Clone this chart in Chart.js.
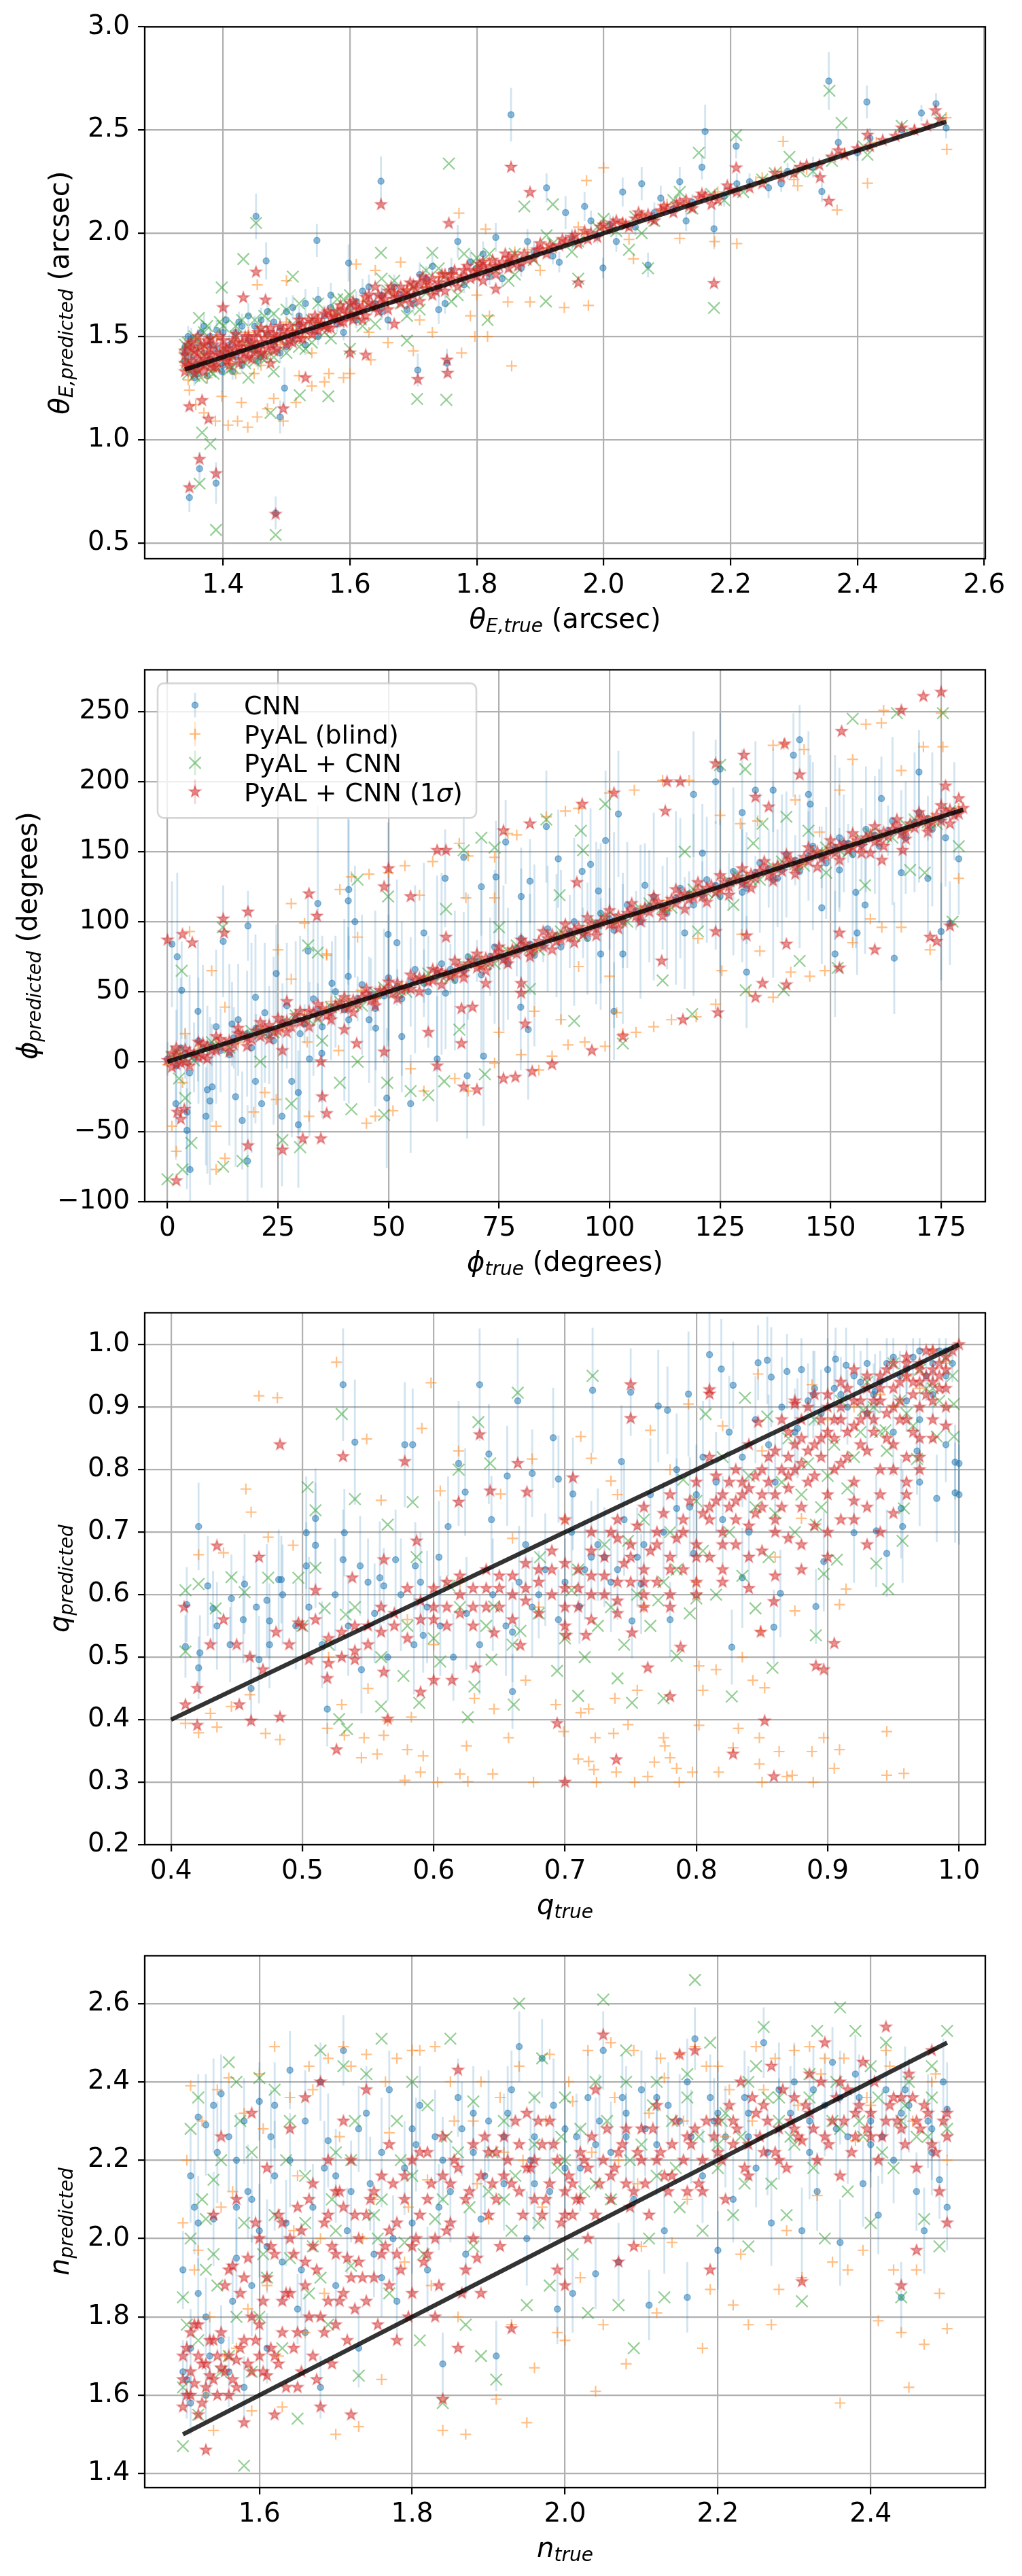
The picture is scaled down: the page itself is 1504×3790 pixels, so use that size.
<!DOCTYPE html>
<html>
<head>
<meta charset="utf-8">
<script src="https://cdn.jsdelivr.net/npm/chart.js@4.4.0/dist/chart.umd.min.js"></script>
<style>
  html, body { margin: 0; padding: 0; background: #fff; }
  #page { position: relative; width: 1504px; height: 3790px; }
  .panel { position: absolute; left: 0; width: 1504px; height: 960px; }
</style>
</head>
<body>
<div id="page">
  <div class="panel" style="top:4px"><canvas id="cTheta" width="1504" height="960"></canvas></div>
  <div class="panel" style="top:950px"><canvas id="cPhi" width="1504" height="960"></canvas></div>
  <div class="panel" style="top:1896px"><canvas id="cQ" width="1504" height="960"></canvas></div>
  <div class="panel" style="top:2842px"><canvas id="cN" width="1504" height="960"></canvas></div>
</div>
<script>
// ---- panel 1: Einstein radius (arcsec) ----
// CNN points are [true, predicted, 1-sigma error]
const thetaCnn = [[1.34,1.38,0.04],[1.34,1.45,0.05],[1.35,1.33,0.04],[1.35,1.40,0.06],[1.36,1.47,0.05],[1.36,1.36,0.04],[1.37,1.42,0.05],[1.38,1.50,0.06],[1.38,1.39,0.04],[1.39,1.44,0.05],[1.40,1.36,0.05],[1.40,1.52,0.07],[1.41,1.46,0.05],[1.42,1.40,0.04],[1.43,1.55,0.06],[1.44,1.48,0.05],[1.45,1.43,0.04],[1.46,1.58,0.06],[1.47,1.51,0.05],[1.48,1.46,0.04],[1.49,1.54,0.05],[1.50,1.62,0.07],[1.51,1.49,0.04],[1.52,1.56,0.05],[1.53,1.66,0.07],[1.54,1.53,0.04],[1.56,1.60,0.05],[1.57,1.70,0.06],[1.58,1.56,0.04],[1.60,1.64,0.05],[1.61,1.58,0.04],[1.62,1.72,0.06],[1.64,1.66,0.05],[1.65,1.62,0.04],[1.67,1.74,0.06],[1.68,1.70,0.05],[1.70,1.66,0.05],[1.72,1.78,0.06],[1.74,1.73,0.04],[1.76,1.82,0.06],[1.77,1.96,0.08],[1.78,1.75,0.04],[1.80,1.83,0.05],[1.82,1.79,0.04],[1.83,1.98,0.07],[1.85,1.86,0.05],[1.87,1.83,0.04],[1.89,1.91,0.05],[1.92,1.89,0.04],[1.94,2.10,0.08],[1.95,1.97,0.05],[1.97,2.13,0.07],[1.99,1.99,0.04],[2.01,2.04,0.05],[2.03,2.20,0.07],[2.05,2.03,0.04],[2.06,2.24,0.08],[2.08,2.10,0.05],[2.11,2.12,0.04],[2.12,2.25,0.07],[2.14,2.15,0.04],[2.19,2.18,0.05],[2.23,2.25,0.04],[2.26,2.22,0.05],[2.29,2.30,0.04],[2.33,2.32,0.05],[2.37,2.44,0.06],[2.40,2.39,0.04],[2.42,2.46,0.05],[2.47,2.50,0.04],[2.54,2.51,0.05],
  [1.347,0.72,0.07],[1.363,0.86,0.08],[1.389,0.79,0.10],[1.483,0.645,0.08],[1.854,2.574,0.13],[1.649,2.252,0.12],[1.452,2.082,0.11],[1.468,1.866,0.09],[1.548,1.965,0.08],[1.598,1.856,0.09],[2.16,2.493,0.13],[2.209,2.422,0.06],[2.355,2.737,0.14],[2.415,2.636,0.08],[2.501,2.582,0.04],[2.524,2.628,0.05],[1.91,2.22,0.07],[2.344,2.202,0.05],[2.174,2.022,0.10],[2.07,1.846,0.06],[1.999,1.832,0.05],[1.707,1.337,0.08],[1.753,1.371,0.07],[1.398,1.33,0.10],[1.497,1.25,0.10],[1.49,1.11,0.08],[2.155,2.32,0.06],[1.74,1.63,0.07]];
const thetaCnnBand = [[1.345,1.50,0.05],[1.355,1.30,0.04],[1.365,1.52,0.05],[1.375,1.31,0.04],[1.39,1.53,0.05],[1.405,1.58,0.06],[1.415,1.33,0.04],[1.425,1.57,0.05],[1.44,1.60,0.06],[1.455,1.38,0.04],[1.47,1.62,0.06],[1.49,1.42,0.05],[1.51,1.64,0.06],[1.53,1.46,0.05],[1.55,1.68,0.06],[1.59,1.52,0.04],[1.63,1.74,0.06],[1.66,1.58,0.05],[1.71,1.80,0.06],[1.75,1.66,0.05],[1.79,1.86,0.06],[1.84,1.78,0.04],[1.88,1.96,0.06],[1.93,1.86,0.05],[1.98,2.06,0.05],[2.02,1.96,0.05],[2.09,2.17,0.06],[2.13,2.06,0.05],[2.21,2.24,0.05],[2.28,2.24,0.04],
  [1.34,1.42,0.04],[1.35,1.49,0.05],[1.36,1.32,0.04],[1.37,1.55,0.06],[1.38,1.46,0.05],[1.40,1.42,0.05],[1.42,1.52,0.05],[1.43,1.36,0.04],[1.45,1.55,0.05],[1.46,1.40,0.04],[1.48,1.57,0.05],[1.50,1.45,0.04],[1.52,1.60,0.05],[1.55,1.50,0.04],[1.57,1.64,0.05],[1.61,1.67,0.05],[1.65,1.70,0.05],[1.69,1.63,0.04],[1.73,1.84,0.06],[1.81,1.90,0.06]];
const thetaBlind = [[1.34,1.36],[1.35,1.41],[1.36,1.34],[1.37,1.44],[1.38,1.38],[1.40,1.43],[1.41,1.37],[1.43,1.47],[1.45,1.44],[1.47,1.50],[1.49,1.46],[1.51,1.53],[1.53,1.50],[1.55,1.57],[1.58,1.60],[1.60,1.63],[1.62,1.67],[1.64,1.82],[1.66,1.66],[1.69,1.73],[1.72,1.74],[1.74,1.79],[1.77,1.77],[1.80,1.82],[1.82,1.87],[1.85,1.86],[1.88,1.92],[1.91,1.93],[1.94,1.95],[1.97,2.00],[2.00,2.02],[2.03,2.05],[2.06,2.09],[2.09,2.11],[2.13,2.14],[2.18,2.20],[2.24,2.25],[2.28,2.30],[2.32,2.31],[2.38,2.39],[2.43,2.44],[2.49,2.50],[2.54,2.56],
  [1.345,1.29],[1.36,1.47],[1.375,1.30],[1.39,1.50],[1.42,1.32],[1.44,1.52],[1.46,1.36],[1.50,1.57],[1.54,1.42],[1.57,1.62],[1.63,1.52],[1.67,1.71],[1.71,1.58],[1.76,1.80],[1.80,1.70],[1.86,1.91],[1.90,1.82],[1.96,2.03],[2.04,1.97],[2.10,2.14],
  [2.541,2.406],[2.416,2.242],[2.368,2.113],[2.283,2.445],[2.306,2.23],[2.21,1.95],[2.175,1.96],[2.12,1.975],[2.0,2.317],[1.973,2.255],[1.772,2.097],[1.855,1.357],[1.817,1.5],[1.797,1.5],[1.776,1.42],[1.938,1.64],[1.976,1.65],[1.884,1.667],[1.849,1.667],[2.047,1.876],[1.633,1.387],[1.60,1.32],[1.567,1.32],[1.61,1.85],[1.68,1.86],[1.814,2.02],[1.347,1.24],[1.357,1.17],[1.37,1.13],[1.388,1.09],[1.408,1.07],[1.423,1.09],[1.439,1.06],[1.454,1.11],[1.47,1.15],[1.495,1.09],[1.48,1.20],[1.515,1.18],[1.54,1.26],[1.56,1.28],[1.429,1.18],[1.398,1.21],[1.50,1.77],[1.454,1.75],[1.357,1.49],[1.367,1.41],[1.412,1.39],[1.449,1.32],[1.52,1.31],[1.59,1.30],[1.66,1.47],[1.70,1.43],[1.73,1.52],[1.79,1.60],[1.82,1.60],[2.30,2.26],[2.25,2.27]];
const thetaPyalCnn = [[1.34,1.40],[1.35,1.36],[1.36,1.44],[1.37,1.38],[1.38,1.48],[1.39,1.35],[1.41,1.42],[1.42,1.50],[1.44,1.45],[1.46,1.53],[1.47,1.40],[1.49,1.49],[1.51,1.56],[1.52,1.45],[1.54,1.58],[1.56,1.52],[1.58,1.62],[1.59,1.68],[1.61,1.60],[1.63,1.65],[1.66,1.72],[1.68,1.66],[1.70,1.74],[1.72,1.71],[1.75,1.79],[1.78,1.76],[1.80,1.85],[1.83,1.82],[1.86,1.90],[1.89,1.87],[1.92,1.95],[1.96,1.96],[1.99,2.03],[2.02,2.01],[2.05,2.08],[2.08,2.06],[2.11,2.16],[2.14,2.12],[2.17,2.19],[2.22,2.20],[2.27,2.29],[2.31,2.30],[2.36,2.35],[2.41,2.42],[2.47,2.52],[2.53,2.55],
  [1.345,1.47],[1.355,1.31],[1.37,1.52],[1.385,1.32],[1.40,1.55],[1.415,1.35],[1.43,1.58],[1.45,1.38],[1.465,1.60],[1.48,1.40],[1.50,1.63],[1.53,1.44],[1.55,1.66],[1.57,1.49],[1.60,1.70],[1.64,1.56],[1.67,1.77],[1.71,1.63],[1.74,1.83],[1.77,1.70],[1.82,1.90],[1.86,1.80],[1.91,1.99],[1.95,1.91],[2.00,2.07],[2.06,2.00],[2.12,2.20],[2.19,2.16],[2.25,2.26],[2.33,2.30],
  [1.34,1.46],[1.345,1.32],[1.355,1.50],[1.365,1.30],[1.375,1.55],[1.38,1.33],[1.395,1.57],[1.41,1.34],[1.42,1.55],[1.435,1.37],[1.45,1.58],[1.46,1.40],[1.48,1.61],[1.50,1.42],[1.52,1.66],[1.54,1.47],[1.58,1.68],[1.62,1.55],[1.65,1.78],[1.69,1.60],[1.72,1.82],[1.76,1.67],[1.80,1.88],[1.85,1.77],
  [1.389,0.563],[1.483,0.539],[1.363,0.787],[1.38,0.98],[1.367,1.034],[1.452,2.05],[1.432,1.875],[1.756,2.337],[2.209,2.475],[2.375,2.535],[2.174,1.638],[2.15,2.39],[2.07,1.83],[1.706,1.197],[1.752,1.193],[1.521,1.215],[1.566,1.21],[2.293,2.37],[2.416,2.38],[2.356,2.69],[1.909,1.67],[1.96,1.78],[1.817,1.58],[1.475,1.13],[1.875,2.13],[1.92,2.14],[1.398,1.737],[1.362,1.59],[1.649,1.905],[1.73,1.905],[2.04,1.92],[1.51,1.79],[1.44,1.30],[1.48,1.33],[1.60,1.44],[1.69,1.48],[1.78,1.90]];
const thetaSigma = [[1.34,1.37],[1.34,1.41],[1.35,1.35],[1.35,1.44],[1.36,1.39],[1.37,1.36],[1.37,1.46],[1.38,1.41],[1.39,1.38],[1.40,1.45],[1.41,1.40],[1.42,1.47],[1.43,1.43],[1.44,1.50],[1.45,1.46],[1.46,1.42],[1.47,1.52],[1.48,1.48],[1.50,1.51],[1.51,1.47],[1.52,1.55],[1.54,1.57],[1.55,1.53],[1.57,1.59],[1.58,1.62],[1.60,1.60],[1.61,1.65],[1.63,1.66],[1.64,1.74],[1.65,1.69],[1.67,1.71],[1.69,1.69],[1.70,1.75],[1.72,1.77],[1.74,1.74],[1.76,1.80],[1.78,1.79],[1.80,1.82],[1.81,1.86],[1.83,1.84],[1.85,1.88],[1.88,1.87],[1.90,1.92],[1.93,1.94],[1.95,1.98],[1.98,2.00],[2.00,2.04],[2.03,2.05],[2.06,2.08],[2.09,2.11],[2.12,2.15],[2.15,2.17],[2.17,2.14],[2.21,2.20],[2.25,2.24],[2.28,2.27],[2.32,2.33],[2.36,2.37],[2.40,2.41],[2.44,2.45],[2.49,2.50],[2.53,2.55],
  [1.347,0.768],[1.363,0.905],[1.389,0.836],[1.483,0.639],[1.854,2.32],[1.649,2.139],[1.756,2.048],[1.884,2.198],[2.209,2.317],[2.174,1.757],[2.355,2.155],[2.341,2.27],[1.452,1.812],[1.432,1.688],[1.467,1.677],[1.40,1.64],[1.754,1.322],[1.707,1.292],[1.753,1.386],[1.347,1.16],[1.367,1.19],[1.377,1.10],[1.495,1.15],[1.475,1.37],[1.60,1.42],[1.625,1.41],[1.96,1.76],[2.523,2.594],[2.47,2.51],[2.416,2.475],[2.37,2.40],[2.31,2.32],[1.53,1.30],[1.67,1.56],[1.83,1.73]];
const thetaSigmaBand = [[1.34,1.33],[1.34,1.43],[1.35,1.38],[1.35,1.47],[1.36,1.34],[1.36,1.42],[1.36,1.50],[1.37,1.39],[1.37,1.33],[1.38,1.44],[1.38,1.36],[1.38,1.49],[1.39,1.42],[1.39,1.35],[1.40,1.40],[1.40,1.48],[1.41,1.44],[1.41,1.36],[1.42,1.43],[1.42,1.51],[1.43,1.39],[1.43,1.47],[1.44,1.45],[1.44,1.40],[1.45,1.50],[1.45,1.42],[1.46,1.47],[1.46,1.54],[1.47,1.44],[1.48,1.51],[1.48,1.43],[1.49,1.49],[1.49,1.55],[1.50,1.46],[1.51,1.52],[1.52,1.49],[1.52,1.58],[1.53,1.53],[1.54,1.51],[1.55,1.58],[1.56,1.55],[1.56,1.61],[1.57,1.54],[1.58,1.58],[1.59,1.63],[1.59,1.57],[1.60,1.66],[1.61,1.61],[1.62,1.64],[1.62,1.58],[1.63,1.70],[1.64,1.64],[1.65,1.66],[1.66,1.72],[1.66,1.63],[1.67,1.68],[1.68,1.74],[1.68,1.66],[1.69,1.72],[1.70,1.70],[1.71,1.76],[1.71,1.67],[1.72,1.73],[1.73,1.70],[1.73,1.78],[1.74,1.76],[1.75,1.72],[1.75,1.80],[1.76,1.77],[1.77,1.74],[1.78,1.82],[1.79,1.78],[1.80,1.79],[1.81,1.84],[1.81,1.77],[1.82,1.83],[1.83,1.80],[1.84,1.86],[1.85,1.83],[1.86,1.89],[1.87,1.86],[1.89,1.88],[1.90,1.95],[1.91,1.90],[1.92,1.93],[1.94,1.96],[1.96,1.95],[1.97,2.01],[1.99,1.98],[2.01,2.02],[2.02,2.06],[2.04,2.03],[2.05,2.07],[2.07,2.09],[2.08,2.06],[2.10,2.12],[2.11,2.10],[2.13,2.16],[2.14,2.12],[2.16,2.18],[2.18,2.16],[2.20,2.21],[2.23,2.22],[2.27,2.29],[2.30,2.29],[2.34,2.33],[2.38,2.38],[2.42,2.42],[2.46,2.47],[2.51,2.52],
  [1.345,1.46],[1.345,1.36],[1.355,1.43],[1.355,1.32],[1.365,1.45],[1.365,1.37],[1.375,1.48],[1.375,1.41],[1.385,1.35],[1.385,1.46],[1.395,1.41],[1.395,1.50],[1.405,1.38],[1.405,1.44],[1.415,1.48],[1.415,1.41],[1.425,1.45],[1.425,1.37],[1.435,1.50],[1.435,1.42],[1.445,1.47],[1.445,1.39],[1.455,1.52],[1.455,1.44],[1.465,1.49],[1.465,1.41],[1.475,1.54],[1.475,1.46],[1.485,1.50],[1.485,1.44],[1.495,1.53],[1.505,1.48],[1.505,1.55],[1.515,1.51],[1.525,1.56],[1.525,1.49],[1.535,1.58],[1.545,1.53],[1.545,1.60],[1.555,1.56],[1.565,1.62],[1.565,1.54],[1.575,1.60],[1.585,1.57],[1.585,1.65],[1.595,1.61],[1.605,1.58],[1.605,1.67],[1.615,1.63],[1.625,1.69],[1.625,1.60],[1.635,1.65],[1.645,1.70],[1.645,1.62],[1.655,1.68],[1.665,1.74],[1.675,1.69],[1.685,1.71],[1.695,1.76],[1.695,1.66],[1.705,1.73],[1.715,1.79],[1.725,1.75],[1.735,1.72],[1.745,1.80],[1.755,1.76],[1.765,1.82],[1.775,1.78],[1.785,1.84],[1.795,1.81],[1.805,1.85],[1.815,1.81],[1.825,1.87],[1.835,1.84],[1.845,1.90],[1.855,1.86],[1.865,1.84],[1.875,1.90],[1.895,1.92],[1.915,1.94],[1.935,1.97],[1.955,1.99],[1.975,1.97],[1.995,2.03],[2.015,2.05],[2.035,2.04],[2.055,2.10],[2.075,2.07],[2.095,2.13],[2.115,2.14],[2.135,2.13],[2.155,2.19],[2.175,2.18],[2.195,2.23]];
const thetaXTicks = [1.4, 1.6, 1.8, 2.0, 2.2, 2.4, 2.6];
const thetaXLabels = ['1.4', '1.6', '1.8', '2.0', '2.2', '2.4', '2.6'];
const thetaYTicks = [0.5, 1.0, 1.5, 2.0, 2.5, 3.0];
const thetaYLabels = ['0.5', '1.0', '1.5', '2.0', '2.5', '3.0'];

// ---- panel 2: position angle (degrees) ----
const phiCnn = [[0,2,12],[2,-3,40],[4,6,18],[6,3,25],[8,9,60],[10,12,15],[12,8,30],[15,17,22],[18,20,45],[20,24,10],[23,19,35],[26,28,28],[29,31,55],[31,27,14],[34,36,20],[37,39,38],[40,37,65],[43,45,16],[46,48,26],[49,47,48],[52,54,12],[55,57,32],[58,56,24],[61,63,70],[64,66,18],[67,65,42],[70,72,15],[73,75,28],[76,74,52],[79,81,20],[82,84,36],[85,83,12],[88,90,44],[91,93,26],[94,92,18],[97,99,58],[100,102,22],[103,101,34],[106,108,14],[109,111,40],[112,110,30],[115,117,62],[118,120,16],[121,119,24],[124,126,46],[127,129,20],[130,128,38],[133,135,12],[136,138,28],[139,137,54],[142,144,18],[145,147,32],[148,146,22],[151,153,66],[154,156,14],[157,155,26],[160,162,42],[163,165,18],[166,164,30],[169,171,50],[172,174,16],[175,173,24],[178,179,35],
  [3,10,50],[5,-8,70],[7,15,45],[9,-20,60],[11,25,55],[14,5,65],[16,30,40],[19,10,75],[22,35,50],[24,15,60],[27,40,45],[30,20,70],[33,45,55],[35,25,65],[38,50,40],[41,30,60],[44,55,50],[47,38,70],[50,60,45],[53,45,55],[56,66,60],[59,50,40],[62,70,65],[65,58,50],[68,75,45],[71,62,60],[74,82,55],[77,70,40],[80,88,50],[83,76,65],[86,95,45],[89,82,55],[92,100,60],[95,88,40],[98,106,50],[101,94,70],[104,112,45],[107,100,55],[110,118,60],[113,106,40],[116,124,50],[119,112,65],[122,130,45],[125,118,55],[128,136,60],[131,124,40],[134,142,50],[137,130,70],[140,148,45],[143,136,55],[146,154,60],[149,142,40],[152,160,50],[155,148,65],[158,166,45],[161,154,55],[164,172,60],[167,160,40],[170,178,50],[173,166,55],
  [1,84,45],[2.2,75,60],[3.2,51,35],[6.9,36,50],[1.9,-30,40],[4.4,-36,55],[4.4,-49,30],[5.1,-77,45],[8.7,-39,35],[9.6,-28,60],[10.1,-18,25],[12.6,86,40],[14.6,27,30],[15.4,-25,50],[16.9,-42,35],[18.2,97,25],[18.1,-71,40],[19.9,-14,30],[19.9,46,45],[21.3,-30,60],[24.6,63,35],[25.9,-39,50],[28.1,-14,40],[29.6,-22,30],[29.6,-45,45],[32.1,2,55],[34,113,70],[31.8,79,40],[34.9,6,35],[37.2,56,30],[41,123,50],[40.9,115,60],[42.4,100,40],[40.9,61,35],[45.6,30,45],[47.1,24,30],[49.6,-26,50],[49.9,91,80],[51.9,85,45],[53,18,40],[55,-30,35],[58,92,50],[61,2,45],[62.8,131,35],[62.9,49,40],[67,146,30],[67.8,-10,45],[71,125,35],[71.5,4,50],[74.3,132,40],[76.5,157,30],[80,118,35],[79.9,39,45],[82,129,30],[81.6,23,50],[85.7,168,40],[88.4,145,35],[93.8,136,45],[95.7,141,40],[97.5,122,30],[99.1,158,50],[102,177,45],[98,77,40],[101,36,35],[103,77,50],[108,126,30],[117,92,40],[119,191,45],[121,149,35],[124,200,30],[125,209,40],[130,178,45],[133,194,35],[137,194,30],[130,121,50],[131,64,40],[138,131,35],[141.6,219,30],[143,230,25],[145,191,45],[145.4,184,35],[148,110,40],[152,137,30],[153,156,35],[155.7,121,40],[156,92,30],[151,77,45],[157.8,112,35],[161.5,188,30],[164.4,74,40],[166,135,35],[170,207,30],[172,131,40],[175,93,35],[177,99,30],[179,145,40],[176,160,35]];
const phiBlind = [[0,-2],[3,5],[7,9],[11,13],[16,14],[21,23],[26,24],[31,33],[36,38],[41,43],[47,45],[53,55],[59,61],[65,63],[71,73],[77,79],[83,81],[89,91],[95,97],[101,99],[107,109],[113,115],[119,121],[125,123],[131,133],[137,139],[143,141],[149,151],[155,157],[161,163],[167,165],[173,175],[179,181],
  [28,113],[31,99],[36,77],[39,123],[41.6,132],[45.6,134],[50,135],[53.7,140],[60,143],[66,156],[68,147],[74,146],[77,163],[79,162],[85.7,175],[90,179],[93,181],[100,192],[105.6,194],[112,201],[118,201],[125,176],[129.6,170],[133.5,172],[137,226],[139.4,227],[144,223],[142,187],[147.5,164],[152,194],[155,216],[158,241],[161.5,242],[162,251],[166,208],[171,225],[175,249],[175.4,225],[179,131],
  [1,-46],[2,-64],[3.4,-15],[4,20],[5,93],[10,65],[11,-77],[11,-46],[13,39],[13,-69],[19.5,-36],[22,-22],[25,80],[28,59],[32,-39],[36,76],[38.7,8],[43,89],[45,-44],[47,-39],[51,-35],[55,-5],[58,-21],[65,-12],[68,-21],[74,-1],[80,5],[84,-6],[87,4],[90.6,12],[94.4,14],[99,11],[103,20],[106,21],[110,25],[114,30],[119.6,32],[124,41],[131.6,50],[137,46],[141,64],[145.3,61],[148.7,65],[155,85],[161.6,96],[166,96],[172.5,80],[159,102],[125.4,65],[129.9,91],[134,79],[113,108],[120,88],[93,68],[100,61],[101.6,35],[89,30],[75,21],[83,36],[70.6,68],[74,117],[67.5,117],[57,119],[43.8,51],[37,43],[31.6,14],[24.6,-27]];
const phiPyalCnn = [[1,3],[4,2],[8,10],[12,11],[17,19],[22,20],[27,29],[32,30],[37,39],[42,41],[47,49],[52,50],[57,59],[62,61],[67,69],[72,70],[77,79],[82,81],[87,89],[92,90],[97,99],[102,101],[107,109],[112,110],[117,119],[122,121],[127,129],[132,130],[137,139],[142,141],[147,149],[152,151],[157,159],[162,161],[167,169],[172,171],[177,179],
  [2,7],[6,1],[10,14],[14,10],[19,22],[24,21],[29,33],[34,30],[39,43],[44,40],[49,53],[54,50],[59,63],[64,60],[69,73],[74,70],[79,83],[84,80],[89,93],[94,90],[99,103],[104,100],[109,113],[114,110],[119,123],[124,120],[129,133],[134,130],[139,143],[144,140],[149,153],[154,150],[159,163],[164,160],[169,173],[174,170],
  [0,-84],[3.4,-77],[5.4,-58],[3.2,65],[4,-26],[2.6,-12],[12.6,-75],[17,-71],[12.5,96],[21,0],[26,-56],[30,-61],[28,-30],[31.8,83],[34,78],[35,15],[39,-15],[41.6,-34],[43,130],[43,0],[49,-38],[49.9,118],[49.7,-15],[55,-21],[59,-24],[63,109],[62.6,-14],[66,23],[67,151],[71,160],[71.8,-9],[74,153],[75,96],[82,52],[85.7,173],[88.7,119],[92,29],[93.5,165],[94,151],[99,184],[102.6,102],[103,13],[112,58],[117,150],[118.7,34],[120,93],[125,212],[128,112],[130.7,209],[130.8,51],[134.6,170],[132.5,156],[140,175],[139.4,51],[143,72],[145,165],[149,135],[151.6,67],[155,245],[157.8,126],[165,249],[168,137],[175.4,249],[179,154],[177.6,100],[171.3,135]];
const phiSigma = [[0,1],[1,-4],[2,5],[3,-1],[5,7],[7,3],[9,11],[11,8],[14,15],[17,19],[19,16],[22,24],[25,22],[27,29],[30,28],[33,35],[36,33],[38,40],[41,39],[44,46],[47,45],[50,52],[53,51],[56,58],[59,57],[62,64],[65,63],[68,70],[71,69],[74,76],[77,75],[80,82],[83,81],[86,88],[89,87],[92,94],[95,93],[98,100],[101,99],[104,106],[107,105],[110,112],[113,111],[116,118],[119,117],[122,124],[125,123],[128,130],[131,129],[134,136],[137,135],[140,142],[143,141],[146,148],[149,147],[152,154],[155,153],[158,160],[161,159],[164,166],[167,165],[170,172],[173,171],[176,178],[179,177],
  [0,87],[3.4,91],[5.6,85],[2,-85],[2.2,-36],[3,-41],[3.8,-34],[12.6,102],[12.8,92],[18.2,107],[18.2,-60],[26,-63],[26,8],[27,43],[30.6,-55],[32,120],[33.8,104],[34.7,0],[34.7,-55],[35,-25],[36,-37],[40,23],[42.8,13],[49,125],[50,138],[49,7],[55,118],[59,21],[61,151],[63,151],[61,-3],[63,89],[66.5,38],[66.5,13],[67,-18],[69,39],[70,-20],[72,56],[76,165],[76,-12],[78.7,-11],[80,56],[80,49],[80.9,27],[82,170],[82.5,-7],[87,-2],[92.6,128],[93.8,184],[96,8],[101,192],[103,18],[111.8,72],[112.6,179],[113,200],[116,200],[116.6,30],[124,93],[124.5,35],[124,213],[130.4,219],[131,90],[133,189],[133,46],[134.6,56],[136,182],[139.6,227],[140,55],[140,84],[143,205],[152,92],[152,67],[152.5,236],[159,149],[160,80],[161.6,144],[166,251],[166.3,151],[171,261],[172.5,89],[174,86],[175,264],[176,197],[177,97],[179,188]];
const phiSigmaBand = [[1,6],[2,-2],[4,9],[4,0],[6,5],[8,13],[8,4],[10,8],[12,16],[13,11],[15,12],[16,20],[18,17],[20,22],[21,18],[23,26],[24,21],[26,27],[28,25],[29,33],[31,30],[32,36],[34,32],[35,38],[37,35],[39,42],[40,38],[42,44],[43,41],[45,48],[46,44],[48,51],[49,50],[51,49],[52,56],[54,53],[55,52],[57,60],[58,59],[60,58],[61,65],[63,62],[64,61],[66,68],[67,64],[69,72],[70,67],[72,74],[73,71],[75,78],[76,73],[78,80],[79,77],[81,84],[82,79],[84,86],[85,82],[87,91],[88,86],[90,92],[91,89],[93,96],[94,91],[96,98],[97,95],[99,103],[100,98],[102,104],[103,100],[105,108],[106,104],[108,110],[109,107],[111,114],[112,109],[114,116],[115,113],[117,120],[118,116],[120,122],[121,118],[123,126],[124,121],[126,128],[127,125],[129,132],[130,127],[132,134],[133,131],[135,138],[136,133],[138,140],[139,136],[141,144],[142,139],[144,146],[145,143],[147,150],[148,145],[150,152],[151,149],[153,156],[154,151],[156,158],[157,154],[159,162],[160,157],[162,164],[163,161],[165,168],[166,163],[168,170],[169,167],[171,174],[172,169],[174,176],[175,172],[177,180],[178,176],[180,181],
  [2,10],[5,-3],[7,14],[9,2],[11,18],[14,7],[16,24],[18,11],[21,28],[23,16],[25,31],[27,21],[30,36],[32,25],[34,41],[37,30],[40,46],[42,35],[45,52],[47,40],[50,57],[52,45],[55,62],[57,50],[60,66],[62,55],[65,72],[67,60],[70,77],[72,65],[75,82],[77,70],[80,87],[82,75],[85,93],[87,80],[90,98],[92,85],[95,103],[97,90],[100,108],[102,95],[105,113],[107,100],[110,118],[112,104],[115,123],[117,109],[120,128],[122,114],[125,133],[127,119],[130,138],[132,124],[135,143],[137,129],[140,148],[142,134],[145,153],[147,139],[150,158],[152,144],[155,163],[157,149],[160,168],[162,154],[165,173],[167,159],[170,178],[172,164],[175,183],[177,170]];
const phiXTicks = [0, 25, 50, 75, 100, 125, 150, 175];
const phiXLabels = ['0', '25', '50', '75', '100', '125', '150', '175'];
const phiYTicks = [-100, -50, 0, 50, 100, 150, 200, 250];
const phiYLabels = ['\u2212100', '\u221250', '0', '50', '100', '150', '200', '250'];

// ---- panel 3: axis ratio ----
const qCnn = [[0.99,0.99,0.02],[0.98,0.97,0.03],[0.97,0.99,0.02],[0.96,0.96,0.04],[0.95,0.98,0.03],[0.99,0.95,0.03],[0.94,0.94,0.05],[0.93,0.97,0.04],[0.92,0.95,0.05],[0.98,0.92,0.04],[0.96,0.91,0.05],[0.91,0.92,0.06],[0.90,0.96,0.05],[0.89,0.93,0.06],[0.88,0.96,0.05],[0.97,0.88,0.06],[0.95,0.86,0.07],[0.93,0.89,0.06],[1.0,0.81,0.05],[1.0,0.76,0.08],[0.99,0.84,0.06],[0.97,0.78,0.07],
  [0.995,0.97,0.03],[0.985,0.99,0.02],[0.975,0.95,0.04],[0.965,0.98,0.03],[0.955,0.95,0.04],[0.945,0.97,0.04],[0.935,0.92,0.05],[0.925,0.94,0.05],[0.915,0.90,0.06],[0.905,0.93,0.06],[0.895,0.89,0.07],[0.885,0.91,0.06],[0.875,0.86,0.07],[0.865,0.90,0.08],[0.855,0.84,0.08],[0.845,0.88,0.07],[0.835,0.82,0.08],[0.825,0.86,0.09],[0.815,0.78,0.08],[0.805,0.82,0.09],[0.795,0.74,0.08],[0.785,0.80,0.09],[0.775,0.70,0.08],[0.765,0.76,0.09],[0.755,0.66,0.08],[0.745,0.72,0.09],[0.735,0.62,0.08],[0.725,0.68,0.09],[0.715,0.64,0.08],[0.705,0.70,0.09],[0.695,0.56,0.08],[0.685,0.64,0.09],[0.675,0.58,0.08],[0.665,0.62,0.09],[0.655,0.55,0.08],[0.645,0.60,0.09],[0.635,0.52,0.08],[0.625,0.57,0.09],[0.615,0.50,0.07],[0.605,0.55,0.08],[0.595,0.58,0.09],[0.585,0.52,0.08],[0.575,0.60,0.09],[0.565,0.50,0.07],[0.555,0.57,0.08],[0.545,0.48,0.07],[0.535,0.55,0.08],[0.525,0.60,0.09],[0.515,0.52,0.07],[0.505,0.58,0.08],[0.495,0.55,0.07],[0.485,0.60,0.08],[0.475,0.52,0.07],[0.465,0.58,0.08],[0.455,0.56,0.07],[0.445,0.52,0.06],[0.435,0.55,0.07],
  [0.421,0.709,0.07],[0.412,0.584,0.06],[0.411,0.517,0.05],[0.422,0.507,0.06],[0.421,0.483,0.05],[0.428,0.614,0.08],[0.432,0.578,0.06],[0.446,0.594,0.07],[0.456,0.617,0.08],[0.461,0.45,0.06],[0.467,0.496,0.07],[0.473,0.591,0.09],[0.475,0.558,0.06],[0.482,0.624,0.08],[0.484,0.624,0.07],[0.503,0.699,0.09],[0.51,0.722,0.08],[0.51,0.679,0.10],[0.503,0.646,0.07],[0.519,0.417,0.06],[0.531,0.936,0.09],[0.531,0.656,0.08],[0.532,0.699,0.07],[0.54,0.844,0.10],[0.544,0.646,0.08],[0.55,0.62,0.07],[0.559,0.627,0.09],[0.562,0.614,0.06],[0.571,0.656,0.08],[0.578,0.84,0.10],[0.584,0.84,0.09],[0.586,0.646,0.07],[0.59,0.62,0.08],[0.592,0.535,0.06],[0.604,0.66,0.09],[0.611,0.709,0.08],[0.619,0.81,0.10],[0.624,0.764,0.07],[0.635,0.936,0.09],[0.642,0.825,0.08],[0.644,0.72,0.07],[0.66,0.445,0.06],[0.664,0.91,0.10],[0.656,0.79,0.08],[0.675,0.794,0.07],[0.67,0.68,0.09],[0.691,0.851,0.08],[0.695,0.785,0.07],[0.706,0.761,0.09],[0.711,0.581,0.06],[0.721,0.927,0.10],[0.73,0.66,0.08],[0.743,0.813,0.09],[0.75,0.924,0.07],[0.751,0.558,0.06],[0.758,0.617,0.08],[0.771,0.902,0.09],[0.778,0.895,0.07],[0.785,0.738,0.08],[0.794,0.921,0.10],[0.798,0.666,0.07],[0.81,0.984,0.09],[0.819,0.961,0.08],[0.827,0.516,0.06],[0.828,0.935,0.07],[0.835,0.627,0.08],[0.847,0.971,0.06],[0.854,0.975,0.07],[0.857,0.948,0.08],[0.859,0.548,0.06],[0.864,0.602,0.07],[0.869,0.957,0.06],[0.877,0.866,0.08],[0.889,0.92,0.07],[0.891,0.581,0.06],[0.897,0.653,0.08],[0.906,0.977,0.05],[0.914,0.967,0.06],[0.92,0.699,0.08],[0.936,0.925,0.06],[0.937,0.702,0.09],[0.945,0.666,0.07],[0.956,0.738,0.08],[0.957,0.709,0.09],[0.983,0.754,0.07],[0.997,0.812,0.06],[0.997,0.763,0.08],[0.968,0.83,0.07],[0.80,0.76,0.08],[0.82,0.72,0.07],[0.84,0.70,0.09],[0.86,0.78,0.08],[0.76,0.68,0.07],[0.74,0.64,0.08],[0.72,0.66,0.09],[0.70,0.62,0.07],[0.78,0.56,0.06],[0.66,0.54,0.08],[0.68,0.60,0.07]];
const qBlind = [[0.526,0.972],[0.467,0.918],[0.481,0.915],[0.598,0.939],[0.591,0.866],[0.549,0.849],[0.457,0.769],[0.461,0.732],[0.474,0.692],[0.493,0.679],[0.421,0.664],[0.44,0.667],[0.56,0.751],[0.605,0.766],[0.619,0.83],[0.651,0.761],[0.675,0.817],[0.712,0.853],[0.72,0.818],[0.735,0.782],[0.765,0.863],[0.794,0.905],[0.847,0.953],[0.888,0.936],[0.88,0.722],[0.914,0.609],[0.909,0.584],[0.875,0.574],[0.849,0.542],[0.835,0.5],[0.802,0.486],[0.815,0.48],[0.843,0.463],[0.852,0.451],[0.805,0.447],[0.755,0.447],[0.738,0.434],[0.718,0.417],[0.712,0.411],[0.693,0.424],[0.67,0.463],[0.631,0.434],[0.646,0.417],[0.583,0.404],[0.565,0.398],[0.55,0.45],[0.53,0.424],[0.519,0.386],[0.435,0.388],[0.411,0.394],[0.421,0.379],[0.472,0.378],[0.483,0.368],[0.446,0.421],[0.532,0.375],[0.547,0.371],[0.562,0.375],[0.545,0.339],[0.557,0.345],[0.58,0.352],[0.592,0.342],[0.59,0.316],[0.578,0.303],[0.603,0.3],[0.62,0.313],[0.626,0.301],[0.625,0.358],[0.645,0.313],[0.657,0.371],[0.676,0.3],[0.699,0.381],[0.71,0.337],[0.718,0.333],[0.722,0.32],[0.724,0.3],[0.723,0.371],[0.737,0.378],[0.739,0.316],[0.748,0.392],[0.753,0.3],[0.763,0.309],[0.768,0.332],[0.775,0.371],[0.776,0.358],[0.78,0.339],[0.785,0.322],[0.787,0.3],[0.797,0.316],[0.802,0.391],[0.817,0.316],[0.832,0.386],[0.828,0.355],[0.848,0.371],[0.848,0.329],[0.85,0.3],[0.863,0.349],[0.873,0.311],[0.888,0.349],[0.889,0.3],[0.897,0.371],[0.905,0.322],[0.945,0.381],[0.945,0.311],[0.958,0.314],[0.909,0.352],[0.869,0.309],
  [0.98,0.99],[0.96,0.95],[0.94,0.92],[0.99,0.97],[0.92,0.90],[0.97,0.93],[0.90,0.88],[0.95,0.90],[0.85,0.83],[0.82,0.87],[0.78,0.80],[0.74,0.76],[0.70,0.72],[0.66,0.69],[0.62,0.62],[0.58,0.56],[0.52,0.50],[0.46,0.44],[0.43,0.41],[0.60,0.52],[0.68,0.58],[0.80,0.62],[0.86,0.66],[0.76,0.58]];
const qPyalCnn = [[0.53,0.889],[0.634,0.876],[0.721,0.95],[0.664,0.923],[0.643,0.81],[0.504,0.772],[0.51,0.735],[0.54,0.753],[0.584,0.748],[0.619,0.8],[0.411,0.607],[0.411,0.509],[0.421,0.617],[0.434,0.578],[0.446,0.628],[0.456,0.604],[0.474,0.627],[0.497,0.627],[0.51,0.643],[0.517,0.578],[0.533,0.568],[0.528,0.401],[0.534,0.385],[0.56,0.421],[0.577,0.47],[0.589,0.427],[0.605,0.493],[0.626,0.404],[0.631,0.453],[0.644,0.496],[0.661,0.424],[0.694,0.478],[0.71,0.438],[0.74,0.466],[0.751,0.427],[0.775,0.434],[0.785,0.502],[0.827,0.437],[0.858,0.483],[0.891,0.535],[0.897,0.633],[0.891,0.712],[0.907,0.656],[0.937,0.65],[0.946,0.609],[0.957,0.686],[0.958,0.738],[0.996,0.853],[0.996,0.905],[0.968,0.817],[0.983,0.853],[0.944,0.863],[0.927,0.895],[0.845,0.578],[0.8,0.594],[0.771,0.591],[0.748,0.686],[0.79,0.784],[0.807,0.889],[0.837,0.915],[0.854,0.885],[0.705,0.607],[0.681,0.66],[0.646,0.581],[0.612,0.614],[0.587,0.66],[0.565,0.712],[0.666,0.542],
  [0.99,0.98],[0.97,0.96],[0.95,0.97],[0.98,0.93],[0.93,0.94],[0.96,0.89],[0.91,0.91],[0.94,0.86],[0.89,0.88],[0.92,0.82],[0.87,0.85],[0.84,0.79],[0.82,0.82],[0.80,0.75],[0.78,0.70],[0.76,0.72],[0.73,0.68],[0.71,0.64],[0.86,0.73],[0.88,0.76],[0.90,0.79],
  [0.995,0.95],[0.985,0.91],[0.975,0.93],[0.965,0.87],[0.955,0.91],[0.945,0.83],[0.935,0.90],[0.925,0.86],[0.915,0.77],[0.905,0.84],[0.895,0.74],[0.885,0.81],[0.875,0.70],[0.865,0.78],[0.855,0.66],[0.845,0.74],[0.835,0.63],[0.825,0.70],[0.815,0.60],[0.805,0.67],[0.795,0.57],[0.785,0.64],[0.775,0.62],[0.765,0.55],[0.755,0.60],[0.745,0.52],[0.735,0.58],[0.725,0.55],[0.715,0.50],[0.70,0.53],[0.68,0.57],[0.66,0.52],[0.64,0.55],[0.62,0.58],[0.60,0.53],[0.58,0.55],[0.56,0.50],[0.54,0.58],[0.52,0.52],[0.50,0.55]];
const qSigma = [[1.0,1.0],[0.99,0.98],[0.98,0.99],[0.98,0.96],[0.97,0.97],[0.97,0.94],[0.96,0.98],[0.96,0.95],[0.95,0.93],[0.95,0.97],[0.94,0.95],[0.94,0.91],[0.93,0.93],[0.93,0.89],[0.92,0.96],[0.92,0.91],[0.91,0.88],[0.91,0.94],[0.90,0.90],[0.90,0.86],[0.89,0.92],[0.89,0.84],[0.88,0.88],[0.88,0.81],[0.87,0.86],[0.87,0.79],[0.86,0.83],[0.86,0.76],[0.85,0.80],[0.85,0.74],[0.84,0.84],[0.84,0.77],[0.83,0.72],[0.83,0.80],[0.82,0.76],[0.82,0.70],[0.81,0.82],[0.81,0.74],[0.80,0.78],[0.80,0.68],[0.79,0.72],[0.78,0.76],[0.78,0.66],[0.77,0.70],[0.76,0.74],[0.76,0.64],[0.75,0.68],[0.74,0.72],[0.74,0.62],[0.73,0.66],[0.72,0.70],[0.72,0.60],[0.71,0.64],[0.70,0.72],[0.70,0.58],[0.69,0.67],[0.68,0.62],[0.67,0.65],[0.66,0.60],[0.65,0.63],[0.64,0.58],[0.63,0.61],[0.62,0.57],[0.61,0.55],[0.60,0.58],[0.59,0.56],[0.58,0.53],[0.57,0.57],[0.56,0.54],[0.55,0.52],[0.54,0.55],[0.53,0.50],[0.52,0.53],[0.51,0.56],[0.50,0.55],[0.49,0.52],[0.48,0.54],[0.47,0.48],[0.46,0.50],[0.45,0.52],[0.44,0.56],[0.43,0.52],[0.42,0.45],[0.41,0.58],
  [0.411,0.424],[0.42,0.391],[0.435,0.678],[0.467,0.66],[0.483,0.404],[0.483,0.84],[0.461,0.398],[0.452,0.424],[0.531,0.821],[0.526,0.352],[0.565,0.401],[0.578,0.813],[0.59,0.444],[0.614,0.463],[0.635,0.856],[0.643,0.766],[0.664,0.81],[0.694,0.394],[0.7,0.3],[0.739,0.336],[0.75,0.936],[0.75,0.882],[0.78,0.437],[0.81,0.928],[0.828,0.345],[0.852,0.398],[0.859,0.309],[0.849,0.54],[0.891,0.486],[0.897,0.48],[0.905,0.522],[0.859,0.589],[0.788,0.516],[0.763,0.483],[0.751,0.539],[0.716,0.535],[0.701,0.535],[0.666,0.519],[0.646,0.539],[0.632,0.483],[0.6,0.463],[0.562,0.476],[0.54,0.496],[0.519,0.466],[0.505,0.496],[0.497,0.555],[0.51,0.607],[0.538,0.627],[0.562,0.656],[0.587,0.686],[0.619,0.748],[0.671,0.764],[0.706,0.787],[0.81,0.921],[0.847,0.876],[0.875,0.905]];
const qSigmaCloud = [[0.995,0.99],[0.99,0.96],[0.985,0.97],[0.98,0.94],[0.975,0.99],[0.97,0.96],[0.965,0.92],[0.96,0.97],[0.955,0.94],[0.95,0.90],[0.945,0.96],[0.94,0.93],[0.935,0.88],[0.93,0.95],[0.925,0.91],[0.92,0.87],[0.915,0.93],[0.91,0.90],[0.905,0.85],[0.90,0.92],[0.895,0.88],[0.885,0.90],[0.88,0.85],[0.875,0.91],[0.87,0.82],[0.865,0.88],[0.96,0.88],[0.97,0.90],[0.98,0.91],[0.99,0.93],[0.95,0.84],[0.96,0.82],[0.97,0.85],[0.94,0.80],[0.93,0.83],[0.92,0.78],[0.91,0.81],[0.90,0.76],[0.89,0.79],[0.88,0.74],[0.87,0.77],[0.86,0.72],[0.85,0.76],[0.84,0.71],[0.83,0.75],[0.82,0.68],[0.81,0.72],[0.80,0.66],[0.79,0.70],[0.78,0.64],[0.77,0.68],[0.76,0.62],[0.75,0.66],[0.74,0.69],[0.73,0.63],[0.72,0.67],[0.71,0.61],[0.70,0.65],[0.69,0.60],[0.68,0.64],[0.67,0.59],[0.66,0.63],[0.65,0.61],[0.64,0.64],[0.63,0.58],[0.62,0.60],[0.61,0.62],[0.60,0.56],[0.95,0.80],[0.94,0.76],[0.93,0.74],[0.92,0.72],[0.90,0.70],[0.88,0.68],[0.86,0.70],[0.84,0.66],[0.82,0.64],[0.80,0.62],[0.78,0.60],[0.76,0.58],[0.74,0.57],[0.72,0.56],[0.70,0.55],[0.96,0.78],[0.97,0.82],[0.98,0.88],[0.99,0.90],[0.985,0.93],[0.975,0.95],[0.965,0.86],[0.955,0.88],[0.945,0.85],[0.935,0.86],[0.925,0.84],[0.915,0.82],[0.905,0.80],[0.895,0.82],[0.885,0.78],[0.875,0.80],[0.865,0.74],[0.855,0.78],[0.845,0.73],[0.835,0.78],[0.825,0.74],[0.815,0.79],[0.805,0.73],[0.795,0.75],[0.785,0.69],[0.775,0.73],[0.765,0.67],[0.755,0.71],[0.745,0.65],[0.735,0.70],
  [0.99,0.87],[0.98,0.85],[0.97,0.80],[0.96,0.76],[0.95,0.73],[0.94,0.70],[0.93,0.68],[0.92,0.75],[0.91,0.72],[0.90,0.66],[0.89,0.71],[0.88,0.64],[0.87,0.69],[0.86,0.63],[0.85,0.67],[0.84,0.61],[0.83,0.68],[0.82,0.62],[0.81,0.66],[0.80,0.60],[0.79,0.64],[0.78,0.58],[0.77,0.62],[0.76,0.60],[0.75,0.62],[0.74,0.59],[0.73,0.60],[0.72,0.63],[0.71,0.58],[0.70,0.61],[0.69,0.64],[0.68,0.57],[0.67,0.61],[0.66,0.56],[0.65,0.58],[0.64,0.61],[0.63,0.55],[0.62,0.63],[0.61,0.58],[0.60,0.61],[0.59,0.59],[0.58,0.61],[0.57,0.55],[0.56,0.58],[0.55,0.55],[0.54,0.51],[0.53,0.54],[0.52,0.49],[0.985,0.95],[0.975,0.92],[0.965,0.94],[0.955,0.91],[0.945,0.89],[0.935,0.91],[0.925,0.88],[0.915,0.86],[0.905,0.88],[0.895,0.85],[0.885,0.83],[0.875,0.84],[0.865,0.80],[0.855,0.82],[0.845,0.79],[0.835,0.76],[0.825,0.78],[0.815,0.75]];
const qXTicks = [0.4, 0.5, 0.6, 0.7, 0.8, 0.9, 1.0];
const qXLabels = ['0.4', '0.5', '0.6', '0.7', '0.8', '0.9', '1.0'];
const qYTicks = [0.2, 0.3, 0.4, 0.5, 0.6, 0.7, 0.8, 0.9, 1.0];
const qYLabels = ['0.2', '0.3', '0.4', '0.5', '0.6', '0.7', '0.8', '0.9', '1.0'];

// ---- panel 4: Sersic index ----
const nCnn = [[1.50,1.66,0.08],[1.51,1.72,0.10],[1.51,2.16,0.12],[1.52,1.86,0.09],[1.52,2.31,0.11],[1.53,2.29,0.13],[1.53,1.60,0.07],[1.54,2.05,0.12],[1.55,2.37,0.10],[1.55,1.74,0.09],[1.56,2.26,0.14],[1.57,1.95,0.10],[1.57,2.08,0.12],[1.58,1.62,0.08],[1.58,2.30,0.11],[1.59,1.88,0.13],[1.60,2.35,0.10],[1.60,2.02,0.12],[1.61,1.72,0.09],[1.62,2.16,0.14],[1.63,1.94,0.11],[1.64,2.43,0.10],[1.64,2.20,0.12],[1.65,1.82,0.09],[1.66,2.30,0.13],[1.67,2.08,0.11],[1.68,1.62,0.08],[1.68,2.40,0.10],[1.69,2.25,0.12],[1.70,1.88,0.11],[1.71,2.48,0.09],[1.72,2.12,0.13],[1.73,1.72,0.10],[1.74,2.32,0.12],[1.75,1.96,0.11],[1.76,2.22,0.14],[1.77,2.38,0.10],[1.78,1.84,0.09],[1.79,2.18,0.12],[1.80,2.04,0.13],[1.81,2.34,0.10],[1.82,1.92,0.11],[1.83,2.26,0.12],[1.84,1.68,0.08],[1.85,2.12,0.13],[1.86,2.36,0.10],[1.87,1.96,0.11],[1.88,2.22,0.12],[1.89,2.05,0.10],[1.90,2.30,0.13],[1.91,1.70,0.09],[1.92,2.14,0.12],[1.93,2.38,0.10],[1.94,2.49,0.09],[1.95,2.00,0.12],[1.96,2.26,0.11],[1.97,2.46,0.10],[1.98,2.12,0.13],[1.99,1.82,0.09],[2.00,2.28,0.12],[2.01,1.86,0.10],[2.02,2.18,0.11],[2.03,2.36,0.12],[2.04,1.91,0.09],[2.05,2.48,0.10],[2.06,2.22,0.13],[2.07,1.94,0.10],[2.08,2.32,0.12],[2.09,2.10,0.11],[2.10,2.38,0.10],[2.11,1.83,0.09],[2.12,2.24,0.13],[2.13,2.02,0.11],[2.15,2.30,0.12],[2.16,1.85,0.09],[2.17,2.51,0.08],[2.18,2.16,0.12],[2.19,2.36,0.11],[2.20,1.97,0.10],[2.21,2.26,0.13],[2.22,2.10,0.11],[2.24,2.32,0.12],[2.25,2.18,0.10],[2.26,2.50,0.09],[2.27,2.04,0.11],[2.28,2.28,0.13],[2.30,2.40,0.10],[2.31,2.02,0.11],[2.32,2.22,0.12],[2.33,2.12,0.10],[2.34,2.34,0.13],[2.35,2.45,0.09],[2.36,1.99,0.11],[2.37,2.26,0.12],[2.38,2.42,0.10],[2.39,2.14,0.11],[2.40,2.30,0.13],[2.41,2.06,0.10],[2.42,2.38,0.12],[2.43,2.20,0.11],[2.44,1.85,0.09],[2.45,2.34,0.12],[2.46,2.12,0.10],[2.47,2.02,0.11],[2.48,2.28,0.13],[2.49,2.15,0.10],[2.50,2.08,0.11],[2.50,2.33,0.12],
  [1.505,1.64,0.10],[1.515,2.08,0.12],[1.535,1.70,0.10],[1.545,2.22,0.13],[1.565,1.84,0.11],[1.585,2.12,0.12],[1.615,2.26,0.12],[1.635,2.04,0.11],[1.655,1.92,0.12],[1.685,2.18,0.12],[1.715,2.02,0.11],[1.745,2.14,0.12],[1.775,2.00,0.11],[1.805,2.24,0.12],[1.835,2.08,0.11],[1.865,2.28,0.12],[1.895,2.16,0.11],[1.925,2.32,0.12],[1.955,2.20,0.11],[1.985,2.34,0.12],[2.015,2.26,0.11],[2.045,2.30,0.12],[2.075,2.36,0.11],[2.105,2.28,0.12],[2.135,2.34,0.11],[2.165,2.26,0.12],[2.195,2.30,0.11],[2.235,2.36,0.12],[2.265,2.22,0.11],[2.295,2.32,0.12],[2.325,2.38,0.11],[2.355,2.28,0.12],[2.385,2.36,0.11],[2.415,2.26,0.12],[2.445,2.38,0.11],[2.475,2.30,0.12],[2.495,2.40,0.11],
  [1.50,1.92,0.10],[1.51,1.58,0.08],[1.52,2.04,0.12],[1.53,1.80,0.10],[1.54,2.34,0.12],[1.56,1.66,0.09],[1.57,2.20,0.12],[1.59,2.10,0.11],[1.61,1.98,0.12],[1.62,2.34,0.11],[1.66,1.76,0.10],[1.70,2.16,0.12],[1.73,2.28,0.11],[1.76,1.90,0.10],[1.80,2.28,0.12],[1.84,2.20,0.11],[1.88,2.32,0.12],[1.92,2.26,0.11],[1.96,2.14,0.12],[2.00,2.18,0.11],[2.04,2.24,0.12],[2.08,2.26,0.11],[2.12,2.36,0.12],[2.16,2.40,0.11],[2.20,2.32,0.12],[2.24,2.26,0.11],[2.28,2.38,0.12],[2.32,2.30,0.11],[2.36,2.36,0.12],[2.40,2.24,0.11],[2.44,2.32,0.12],[2.48,2.22,0.11]];
const nBlind = [[1.50,2.04],[1.51,2.39],[1.52,1.97],[1.53,1.60],[1.54,1.51],[1.55,2.08],[1.56,2.41],[1.57,1.72],[1.58,2.32],[1.59,1.56],[1.60,2.42],[1.61,1.88],[1.62,2.49],[1.63,1.57],[1.64,2.36],[1.65,2.16],[1.66,1.76],[1.67,2.38],[1.68,2.00],[1.69,2.46],[1.70,1.50],[1.71,2.49],[1.72,2.44],[1.73,1.52],[1.74,2.47],[1.75,2.10],[1.76,1.64],[1.77,2.27],[1.78,2.46],[1.79,1.94],[1.80,2.48],[1.81,2.48],[1.82,2.15],[1.83,2.49],[1.84,1.51],[1.85,2.40],[1.86,1.80],[1.87,1.50],[1.88,2.30],[1.89,2.40],[1.90,2.05],[1.91,1.59],[1.92,2.22],[1.93,1.78],[1.94,2.44],[1.95,1.53],[1.96,1.67],[1.97,2.08],[1.98,2.47],[1.99,1.76],[2.00,1.74],[2.01,2.35],[2.02,1.90],[2.03,2.48],[2.04,1.61],[2.05,1.78],[2.06,2.50],[2.07,2.20],[2.08,1.68],[2.09,2.48],[2.10,1.98],[2.11,2.32],[2.12,1.81],[2.13,2.41],[2.14,1.99],[2.15,2.47],[2.16,2.10],[2.17,2.49],[2.18,1.72],[2.19,1.87],[2.20,2.44],[2.21,2.26],[2.22,1.83],[2.23,1.96],[2.24,1.78],[2.25,2.49],[2.26,2.38],[2.27,1.78],[2.28,1.87],[2.29,2.02],[2.30,2.48],[2.31,1.90],[2.32,2.49],[2.33,2.11],[2.34,2.46],[2.35,1.94],[2.36,1.58],[2.37,1.92],[2.38,2.25],[2.39,1.97],[2.40,2.34],[2.41,1.79],[2.42,2.48],[2.43,1.92],[2.44,1.76],[2.45,1.62],[2.46,1.92],[2.47,1.73],[2.48,2.40],[2.49,1.86],[2.50,1.77],[2.50,2.20],
  [1.505,2.20],[1.515,1.92],[1.525,2.30],[1.535,1.80],[1.545,2.38],[1.555,1.70],[1.565,2.12],[1.585,1.82],[1.605,2.28],[1.625,1.70],[1.645,2.02],[1.665,2.44],[1.685,1.86],[1.705,2.26],[1.735,2.00],[1.765,2.40],[1.795,2.08],[1.825,1.88],[1.855,2.30],[1.885,2.14],[1.915,2.36],[1.945,2.20],[1.975,2.30],[2.005,2.40],[2.035,2.22],[2.065,2.36],[2.095,2.14],[2.125,2.46],[2.155,2.30],[2.185,2.44],[2.215,2.38],[2.245,2.30],[2.275,2.46],[2.305,2.34],[2.335,2.42],[2.365,2.46],[2.395,2.36],[2.425,2.44],[2.455,2.30],[2.485,2.42]];
const nPyalCnn = [[1.50,1.85],[1.50,1.47],[1.51,2.00],[1.52,2.36],[1.52,1.55],[1.53,1.92],[1.54,2.15],[1.55,1.66],[1.56,2.45],[1.57,1.80],[1.58,1.42],[1.59,2.22],[1.60,2.41],[1.61,1.90],[1.62,2.06],[1.63,1.72],[1.64,2.30],[1.65,1.54],[1.66,2.16],[1.67,1.98],[1.68,2.48],[1.69,1.78],[1.70,2.22],[1.71,2.44],[1.72,1.93],[1.73,1.65],[1.74,2.42],[1.75,2.06],[1.76,2.51],[1.77,1.86],[1.78,2.30],[1.79,1.99],[1.80,2.16],[1.81,1.74],[1.82,2.34],[1.83,2.05],[1.84,1.58],[1.85,2.51],[1.86,2.22],[1.87,1.78],[1.88,2.35],[1.89,1.70],[1.90,2.12],[1.91,1.64],[1.92,2.30],[1.93,2.02],[1.94,2.60],[1.95,1.83],[1.96,2.24],[1.97,2.46],[1.98,1.88],[1.99,2.18],[2.00,2.36],[2.01,1.96],[2.02,2.28],[2.03,1.81],[2.04,2.40],[2.05,2.61],[2.06,2.10],[2.07,1.83],[2.08,2.48],[2.09,1.72],[2.10,2.24],[2.11,2.00],[2.12,2.40],[2.13,1.85],[2.14,2.30],[2.15,2.08],[2.16,2.42],[2.17,2.66],[2.18,2.02],[2.19,2.50],[2.20,2.18],[2.21,2.32],[2.22,2.06],[2.23,2.26],[2.24,1.98],[2.25,2.44],[2.26,2.54],[2.27,2.14],[2.28,2.36],[2.29,2.06],[2.30,2.24],[2.31,1.84],[2.32,2.42],[2.33,2.53],[2.34,2.00],[2.35,2.30],[2.36,2.59],[2.37,2.12],[2.38,2.53],[2.39,2.26],[2.40,2.04],[2.41,2.36],[2.42,2.50],[2.43,2.18],[2.44,1.85],[2.45,2.40],[2.46,2.26],[2.47,2.05],[2.48,2.44],[2.49,1.98],[2.50,2.53],[2.50,2.28],
  [1.505,1.78],[1.525,2.10],[1.545,1.88],[1.575,2.30],[1.605,1.96],[1.635,2.20],[1.665,1.86],[1.695,2.10],[1.725,2.30],[1.755,2.00],[1.785,2.20],[1.815,1.96],[1.845,2.26],[1.875,2.08],[1.905,2.22],[1.935,2.16],[1.965,2.04],[1.995,2.26],[2.025,2.12],[2.055,2.30],[2.085,2.20],[2.115,2.34],[2.145,2.18],[2.175,2.26],[2.205,2.30],[2.235,2.14],[2.265,2.36],[2.295,2.26],[2.325,2.18],[2.355,2.40],[2.385,2.30],[2.415,2.22],[2.445,2.34],[2.475,2.26],
  [1.50,1.62],[1.51,2.28],[1.52,1.74],[1.53,2.05],[1.54,1.96],[1.55,2.20],[1.56,1.70],[1.57,2.40],[1.58,2.04],[1.59,1.66],[1.60,1.80],[1.62,2.38],[1.64,1.95],[1.66,2.04],[1.68,1.90],[1.70,2.02],[1.72,2.20],[1.76,2.10],[1.80,2.40],[1.84,2.10],[1.88,1.98],[1.92,2.10],[1.96,2.36],[2.00,2.20],[2.04,2.14],[2.08,2.40],[2.12,2.16],[2.16,2.36],[2.20,2.24],[2.24,2.40],[2.28,2.30],[2.32,2.36],[2.36,2.28],[2.40,2.44],[2.44,2.30],[2.48,2.36]];
const nSigma = [[1.50,1.64],[1.50,1.57],[1.51,1.76],[1.51,1.66],[1.52,1.55],[1.52,1.70],[1.53,1.46],[1.53,1.62],[1.54,1.74],[1.54,2.06],[1.55,1.67],[1.55,2.26],[1.56,1.92],[1.56,1.60],[1.57,1.69],[1.57,2.10],[1.58,1.90],[1.58,1.53],[1.59,2.32],[1.59,1.80],[1.60,1.70],[1.60,2.00],[1.61,1.65],[1.61,2.18],[1.62,1.55],[1.62,1.96],[1.63,1.76],[1.63,2.04],[1.64,2.28],[1.64,1.86],[1.65,1.62],[1.65,2.08],[1.66,1.94],[1.66,2.36],[1.67,1.70],[1.67,2.14],[1.68,1.57],[1.68,2.40],[1.69,1.84],[1.69,2.20],[1.70,1.96],[1.70,1.78],[1.71,2.30],[1.71,2.08],[1.72,1.90],[1.72,1.55],[1.73,2.00],[1.74,2.38],[1.74,1.84],[1.75,2.12],[1.76,1.96],[1.77,2.24],[1.77,1.88],[1.78,1.74],[1.78,2.04],[1.79,2.16],[1.80,1.98],[1.80,1.86],[1.81,2.22],[1.82,1.96],[1.82,2.10],[1.83,1.80],[1.84,2.26],[1.84,1.59],[1.85,2.14],[1.86,2.43],[1.86,1.72],[1.87,1.92],[1.88,2.24],[1.89,1.86],[1.90,2.06],[1.91,2.22],[1.92,2.16],[1.93,1.77],[1.94,2.12],[1.95,2.32],[1.96,2.20],[1.97,2.06],[1.98,2.30],[1.99,1.92],[2.00,2.12],[2.00,1.88],[2.01,2.06],[2.02,2.22],[2.03,2.00],[2.04,2.38],[2.05,2.20],[2.05,2.52],[2.06,2.10],[2.07,1.94],[2.08,2.28],[2.08,2.14],[2.09,1.98],[2.10,2.20],[2.11,2.06],[2.12,2.34],[2.13,2.16],[2.14,2.24],[2.15,2.47],[2.16,2.12],[2.17,2.48],[2.17,2.28],[2.18,2.20],[2.19,1.92],[2.20,2.30],[2.21,2.10],[2.22,2.24],[2.23,2.40],[2.24,2.16],[2.25,2.32],[2.26,2.22],[2.27,2.44],[2.28,2.28],[2.29,2.18],[2.30,2.36],[2.31,2.25],[2.31,1.89],[2.32,2.42],[2.33,2.20],[2.34,2.50],[2.35,2.30],[2.36,2.16],[2.37,2.38],[2.38,2.26],[2.39,2.45],[2.40,2.32],[2.41,2.20],[2.42,2.54],[2.43,2.36],[2.44,2.28],[2.44,1.88],[2.45,2.42],[2.46,2.18],[2.46,1.97],[2.47,2.34],[2.48,2.48],[2.49,2.12],[2.50,2.26],[2.50,2.04]];
const nSigmaMass = [[1.505,1.60],[1.505,1.72],[1.515,1.63],[1.515,1.78],[1.525,1.68],[1.525,1.58],[1.535,1.74],[1.535,1.65],[1.545,1.60],[1.545,1.70],[1.555,1.66],[1.555,1.88],[1.565,1.64],[1.565,1.93],[1.575,1.72],[1.575,1.86],[1.585,1.68],[1.585,1.95],[1.595,1.74],[1.595,2.04],[1.605,1.66],[1.605,1.84],[1.615,1.72],[1.615,1.98],[1.625,1.68],[1.625,2.06],[1.635,1.86],[1.635,1.62],[1.645,1.96],[1.645,1.72],[1.655,2.02],[1.655,1.66],[1.665,1.80],[1.665,2.10],[1.675,1.64],[1.675,1.92],[1.685,2.04],[1.685,1.76],[1.695,1.68],[1.695,1.98],[1.705,1.84],[1.705,2.12],[1.715,1.74],[1.715,1.95],[1.725,2.06],[1.725,1.82],[1.735,1.90],[1.745,2.10],[1.755,1.78],[1.765,1.98],[1.775,2.14],[1.785,1.92],[1.795,1.80],[1.805,2.00],[1.815,1.94],[1.825,2.14],[1.835,1.88],[1.845,2.02],[1.855,2.20],[1.865,1.86],[1.875,2.12],[1.885,1.95],[1.895,2.26],[1.905,2.14],[1.915,1.98],[1.925,2.20],[1.935,2.30],[1.945,2.06],[1.955,2.18],[1.965,2.30],[1.975,2.10],[1.985,2.24],[1.995,2.04],[2.005,2.16],[2.015,2.10],[2.025,2.20],[2.035,2.26],[2.045,2.14],[2.055,2.28],[2.065,2.18],[2.075,2.24],[2.085,2.08],[2.095,2.22],[2.105,2.14],[2.115,2.28],[2.125,2.22],[2.135,2.12],[2.145,2.30],[2.155,2.20],[2.165,2.24],[2.175,2.14],[2.185,2.30],[2.195,2.26],[2.205,2.20],[2.215,2.34],[2.225,2.28],[2.235,2.18],[2.245,2.36],[2.255,2.26],[2.265,2.30],[2.275,2.22],[2.285,2.38],[2.295,2.30],[2.305,2.26],[2.315,2.34],[2.325,2.28],[2.335,2.40],[2.345,2.24],[2.355,2.36],[2.365,2.30],[2.375,2.22],[2.385,2.34],[2.395,2.28],[2.405,2.40],[2.415,2.26],[2.425,2.34],[2.435,2.30],[2.445,2.24],[2.455,2.36],[2.465,2.28],[2.475,2.32],[2.485,2.22],[2.495,2.30],
  [1.50,1.70],[1.51,1.60],[1.52,1.78],[1.53,1.68],[1.54,1.64],[1.55,1.76],[1.56,1.70],[1.57,1.62],[1.58,1.74],[1.59,1.66],[1.60,1.78],[1.61,1.90],[1.62,1.70],[1.63,1.84],[1.64,2.00],[1.65,1.76],[1.66,1.88],[1.67,1.98],[1.68,1.80],[1.69,2.06],[1.70,2.12],[1.71,1.86],[1.72,2.20],[1.73,1.94],[1.74,2.06],[1.75,1.90],[1.76,2.16],[1.77,2.02],[1.78,1.96],[1.79,2.10],[1.80,2.20],[1.81,2.06],[1.82,2.22],[1.83,2.00],[1.84,2.16],[1.85,2.04],[1.86,2.18],[1.87,2.10],[1.88,2.00],[1.89,2.16],[1.90,2.22],[1.91,2.10],[1.92,2.26],[1.93,2.14],[1.94,2.24],[1.95,2.18],[1.96,2.10],[1.97,2.24],[1.98,2.14],[1.99,2.20],[2.00,2.06],[2.01,2.14],[2.02,2.10],[2.03,2.18],[2.04,2.06],[2.06,2.16],[2.07,2.22],[2.09,2.12],[2.10,2.28],[2.12,2.20],[2.14,2.16],[2.16,2.26],[2.18,2.12],[2.20,2.22],[2.22,2.30],[2.24,2.24],[2.26,2.34],[2.28,2.20],[2.30,2.28],[2.32,2.32],[2.34,2.26],[2.36,2.40],[2.38,2.32],[2.40,2.26],[2.42,2.30],[2.44,2.36],[2.46,2.30],[2.48,2.24],[2.50,2.32]];
const nXTicks = [1.6, 1.8, 2.0, 2.2, 2.4];
const nXLabels = ['1.6', '1.8', '2.0', '2.2', '2.4'];
const nYTicks = [1.4, 1.6, 1.8, 2.0, 2.2, 2.4, 2.6];
const nYLabels = ['1.4', '1.6', '1.8', '2.0', '2.2', '2.4', '2.6'];

const seriesNames = ['CNN', 'PyAL (blind)', 'PyAL + CNN', 'PyAL + CNN (1\u03c3)'];

// ---- styling ----
const BLUE = 'rgba(31,119,180,0.5)';
const ORANGE = 'rgba(255,127,14,0.5)';
const GREEN = 'rgba(44,160,44,0.5)';
const RED = 'rgba(214,39,40,0.5)';
const FONT = '"DejaVu Sans"';

// matplotlib-like filled five point star
function makeStar() {
  const c = document.createElement('canvas');
  c.width = 22; c.height = 22;
  const g = c.getContext('2d');
  g.beginPath();
  for (let i = 0; i < 10; i++) {
    const r = i % 2 ? 3.3 : 8.6;
    const a = -Math.PI / 2 + i * Math.PI / 5;
    const px = 11 + r * Math.cos(a), py = 11 + r * Math.sin(a);
    if (i) g.lineTo(px, py); else g.moveTo(px, py);
  }
  g.closePath();
  g.fillStyle = RED; g.fill();
  g.lineWidth = 1.6; g.strokeStyle = RED; g.stroke();
  return c;
}
const STAR = makeStar();

const pts = arr => arr.map(p => ({x: p[0], y: p[1]}));

function axis(min, max, ticks, labels, isX) {
  return {
    type: 'linear', min: min, max: max,
    afterBuildTicks: s => { s.ticks = ticks.map(v => ({value: v})); },
    afterFit: s => { if (isX) s.height = 142; else s.width = 213; },
    ticks: {
      autoSkip: false, maxRotation: 0, minRotation: 0,
      padding: isX ? 6 : 12, color: '#000',
      font: {family: FONT, size: 39},
      callback: (v, i) => labels[i]
    },
    grid: {color: '#b0b0b0', lineWidth: 2.2, tickColor: '#000', tickWidth: 2.2, tickLength: 10, drawTicks: true},
    border: {display: false}
  };
}

// text with italic symbol and subscript, like mathtext
function drawMath(ctx, parts, cx, baseY, size) {
  const fonts = parts.map(p => (p[1] ? 'italic ' : '') + (p[2] ? size * 0.7 : size) + 'px ' + FONT);
  let total = 0;
  const widths = parts.map((p, i) => { ctx.font = fonts[i]; const w = ctx.measureText(p[0]).width; total += w; return w; });
  let x = cx - total / 2;
  parts.forEach((p, i) => {
    ctx.font = fonts[i];
    ctx.fillText(p[0], x, baseY + (p[2] ? size * 0.16 : 0));
    x += widths[i];
  });
}

const errorBars = {
  id: 'errorBars',
  beforeDatasetsDraw(chart) {
    const {ctx, chartArea: a, scales: {x, y}} = chart;
    ctx.save();
    ctx.beginPath(); ctx.rect(a.left, a.top, a.right - a.left, a.bottom - a.top); ctx.clip();
    ctx.strokeStyle = 'rgba(31,119,180,0.2)';
    ctx.lineWidth = 2.8;
    chart.data.datasets.forEach(ds => {
      if (!ds.errs) return;
      ds.errs.forEach(p => {
        const px = x.getPixelForValue(p[0]);
        ctx.beginPath();
        ctx.moveTo(px, y.getPixelForValue(p[1] - p[2]));
        ctx.lineTo(px, y.getPixelForValue(p[1] + p[2]));
        ctx.stroke();
      });
    });
    ctx.restore();
  }
};

const frame = {
  id: 'frame',
  afterDatasetsDraw(chart) {
    const {ctx, chartArea: a} = chart;
    ctx.save();
    ctx.strokeStyle = '#000'; ctx.lineWidth = 2.3;
    ctx.strokeRect(a.left, a.top, a.right - a.left, a.bottom - a.top);
    ctx.restore();
  }
};

function legendPlugin() {
  return {
    id: 'boxLegend',
    afterDraw(chart) {
      const {ctx, chartArea: a} = chart;
      const L = a.left + 19, T = a.top + 20, W = 469, H = 198, R = 9;
      ctx.save();
      ctx.beginPath();
      ctx.roundRect(L, T, W, H, R);
      ctx.fillStyle = 'rgba(255,255,255,0.8)'; ctx.fill();
      ctx.lineWidth = 2.6; ctx.strokeStyle = 'rgba(204,204,204,0.8)'; ctx.stroke();
      const styles = [
        {pointStyle: 'circle', radius: 4.5, borderWidth: 1.5, c: BLUE, e: 'rgba(31,119,180,0.2)'},
        {pointStyle: 'cross', radius: 8, borderWidth: 2.2, c: ORANGE, e: 'rgba(255,127,14,0.2)'},
        {pointStyle: 'crossRot', radius: 12, borderWidth: 2.2, c: GREEN, e: 'rgba(44,160,44,0.2)'},
        {pointStyle: STAR, radius: 9, borderWidth: 0, c: RED, e: 'rgba(214,39,40,0.2)'}
      ];
      const mx = a.left + 74, tx = a.left + 146;
      styles.forEach((s, i) => {
        const cy = a.top + 52 + i * 42.5;
        ctx.beginPath(); ctx.strokeStyle = s.e; ctx.lineWidth = 2.8;
        ctx.moveTo(mx, cy - 18); ctx.lineTo(mx, cy + 18); ctx.stroke();
        ctx.fillStyle = s.c; ctx.strokeStyle = s.c; ctx.lineWidth = s.borderWidth;
        Chart.helpers.drawPoint(ctx, {pointStyle: s.pointStyle, radius: s.radius, borderWidth: s.borderWidth, rotation: 0}, mx, cy);
        ctx.fillStyle = '#000'; ctx.textBaseline = 'alphabetic'; ctx.textAlign = 'left';
        ctx.font = '38px ' + FONT;
        const base = cy + 14;
        if (i < 3) {
          ctx.fillText(seriesNames[i], tx, base);
        } else {
          const head = 'PyAL + CNN (1';
          ctx.fillText(head, tx, base);
          let x = tx + ctx.measureText(head).width;
          ctx.font = 'italic 38px ' + FONT;
          ctx.fillText('\u03c3', x, base);
          x += ctx.measureText('\u03c3').width;
          ctx.font = '38px ' + FONT;
          ctx.fillText(')', x, base);
        }
      });
      ctx.restore();
    }
  };
}

function panel(id, o) {
  const labels = {
    id: 'mathLabels',
    afterDraw(chart) {
      const {ctx, chartArea: a} = chart;
      ctx.save();
      ctx.fillStyle = '#000'; ctx.textBaseline = 'alphabetic'; ctx.textAlign = 'left';
      drawMath(ctx, o.xTitle, (a.left + a.right) / 2, a.bottom + 102, 40);
      ctx.translate(o.yTitleX, (a.top + a.bottom) / 2);
      ctx.rotate(-Math.PI / 2);
      drawMath(ctx, o.yTitle, 0, 0, 40);
      ctx.restore();
    }
  };
  const plugins = [errorBars, frame, labels];
  if (o.legend) plugins.push(legendPlugin());
  new Chart(document.getElementById(id), {
    type: 'scatter',
    data: {datasets: [
      {label: seriesNames[0], data: pts(o.cnn), errs: o.cnn, pointStyle: 'circle', pointRadius: 4.5, pointHoverRadius: 4.5,
        pointBackgroundColor: BLUE, pointBorderColor: BLUE, pointBorderWidth: 1.5, order: 5},
      {label: seriesNames[1], data: pts(o.blind), pointStyle: 'cross', pointRadius: 8, pointHoverRadius: 8,
        pointBackgroundColor: ORANGE, pointBorderColor: ORANGE, pointBorderWidth: 2.2, order: 4},
      {label: seriesNames[2], data: pts(o.pc), pointStyle: 'crossRot', pointRadius: 12, pointHoverRadius: 12,
        pointBackgroundColor: GREEN, pointBorderColor: GREEN, pointBorderWidth: 2.2, order: 3},
      {label: seriesNames[3], data: pts(o.sig), pointStyle: STAR, pointRadius: 9, pointHoverRadius: 9, order: 2},
      {label: 'one-to-one', data: [{x: o.line[0], y: o.line[0]}, {x: o.line[1], y: o.line[1]}], showLine: true,
        borderColor: 'rgba(0,0,0,0.8)', borderWidth: 6.5, pointRadius: 0, pointHoverRadius: 0, order: 1}
    ]},
    options: {
      responsive: false, animation: false, devicePixelRatio: 1, events: [],
      layout: {padding: {left: 0, right: 54, top: 30, bottom: 0}},
      plugins: {legend: {display: false}, tooltip: {enabled: false}},
      scales: {
        x: axis(o.xr[0], o.xr[1], o.xt, o.xl, true),
        y: axis(o.yr[0], o.yr[1], o.yt, o.yl, false)
      }
    },
    plugins: plugins
  });
}

panel('cTheta', {
  cnn: thetaCnn.concat(thetaCnnBand), blind: thetaBlind, pc: thetaPyalCnn, sig: thetaSigma.concat(thetaSigmaBand), line: [1.34, 2.54],
  xr: [1.2766, 2.6017], yr: [0.4235, 3.0], xt: thetaXTicks, xl: thetaXLabels, yt: thetaYTicks, yl: thetaYLabels,
  xTitle: [['\u03b8', true, false], ['E,true', true, true], [' (arcsec)', false, false]],
  yTitle: [['\u03b8', true, false], ['E,predicted', true, true], [' (arcsec)', false, false]], yTitleX: 101
});
panel('cPhi', {
  cnn: phiCnn, blind: phiBlind, pc: phiPyalCnn, sig: phiSigma.concat(phiSigmaBand), line: [0, 180],
  xr: [-5.15, 185], yr: [-100, 280], xt: phiXTicks, xl: phiXLabels, yt: phiYTicks, yl: phiYLabels,
  xTitle: [['\u03d5', true, false], ['true', true, true], [' (degrees)', false, false]],
  yTitle: [['\u03d5', true, false], ['predicted', true, true], [' (degrees)', false, false]], yTitleX: 54, legend: true
});
panel('cQ', {
  cnn: qCnn, blind: qBlind, pc: qPyalCnn, sig: qSigma.concat(qSigmaCloud), line: [0.4, 1.0],
  xr: [0.380, 1.020], yr: [0.2, 1.051], xt: qXTicks, xl: qXLabels, yt: qYTicks, yl: qYLabels,
  xTitle: [['q', true, false], ['true', true, true]],
  yTitle: [['q', true, false], ['predicted', true, true]], yTitleX: 101
});
panel('cN', {
  cnn: nCnn, blind: nBlind, pc: nPyalCnn, sig: nSigma.concat(nSigmaMass), line: [1.5, 2.5],
  xr: [1.45, 2.55], yr: [1.364, 2.722], xt: nXTicks, xl: nXLabels, yt: nYTicks, yl: nYLabels,
  xTitle: [['n', true, false], ['true', true, true]],
  yTitle: [['n', true, false], ['predicted', true, true]], yTitleX: 101
});
</script>
</body>
</html>
